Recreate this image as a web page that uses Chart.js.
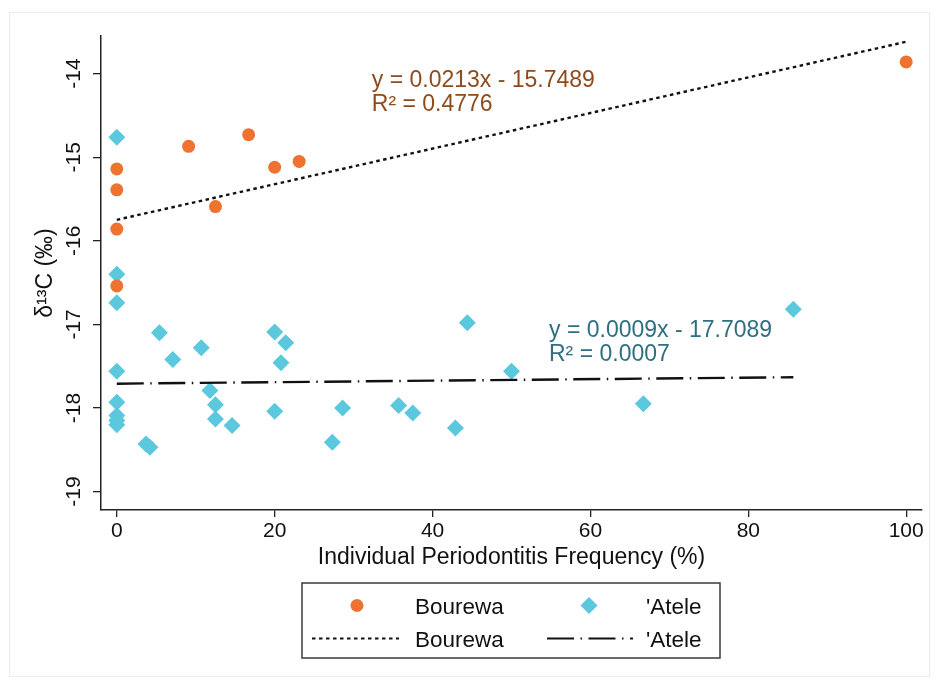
<!DOCTYPE html>
<html>
<head>
<meta charset="utf-8">
<script src="https://cdn.jsdelivr.net/npm/chart.js@4/dist/chart.umd.min.js"></script>
<style>
  html, body { margin: 0; padding: 0; background: #ffffff; }
  #wrap { width: 939px; height: 685px; position: relative; }
</style>
</head>
<body>
<div id="wrap"><canvas id="chart" width="939" height="685"></canvas></div>
<script>
// Bourewa individuals: periodontitis frequency (%) and bone collagen δ13C (‰)
const bourewaX = [0, 0, 0, 0, 9.1, 12.5, 16.7, 20, 23.1, 100];
const bourewaY = [-15.14, -15.39, -15.86, -16.54, -14.87, -15.59, -14.73, -15.12, -15.05, -13.86];

// 'Atele individuals
const ateleX = [0, 0, 0, 0, 0, 0, 0, 0, 3.7, 4.2, 5.4, 7.1, 10.7, 11.8, 12.5, 12.5, 14.6, 20, 20, 20.8,
                21.4, 27.3, 28.6, 35.7, 37.5, 42.9, 44.4, 50, 66.7, 85.7];
const ateleY = [-14.76, -16.40, -16.74, -17.56, -17.93, -18.09, -18.15, -18.20, -18.43, -18.47, -17.10, -17.42,
                -17.28, -17.79, -17.96, -18.13, -18.21, -17.09, -18.04, -17.46, -17.22, -18.41, -18.00, -17.97,
                -18.06, -18.24, -16.98, -17.56, -17.95, -16.82];

// Linear fits [Bourewa, 'Atele]
const seriesNames = ['Bourewa', "'Atele"];
const fitSlopes = [0.0213, 0.0009];
const fitIntercepts = [-15.7489, -17.7089];
const fitR2 = [0.4776, 0.0007];

// Axis ticks
const xTicks = [0, 20, 40, 60, 80, 100];
const yTicks = [-19, -18, -17, -16, -15, -14];

const ORANGE = '#ee7331';
const CYAN = '#5bc8de';
const FONT = '"Liberation Sans", Arial, Helvetica, sans-serif';

function toPoints(xs, ys) { return xs.map((x, i) => ({ x: x, y: ys[i] })); }
function fitLine(k, xs) {
  const x0 = Math.min(...xs), x1 = Math.max(...xs);
  return [x0, x1].map(x => ({ x: x, y: fitSlopes[k] * x + fitIntercepts[k] }));
}
function fitLabel(k) {
  const b = fitIntercepts[k];
  return ['y = ' + fitSlopes[k].toFixed(4) + 'x ' + (b < 0 ? '- ' : '+ ') + Math.abs(b).toFixed(4),
          'R\u00b2 = ' + fitR2[k].toFixed(4)];
}

const DOTTED = [3.5, 3.5];
const DASHDOT = [27, 6.5, 1.5, 6.5];

// Equation labels: anchor (data units) of the first text line's baseline
const labelStyle = [
  { x: 32.3, y: -14.16, color: '#8e4b1d' },
  { x: 54.75, y: -17.147, color: '#2f6f80' }
];

const framePlugin = {
  id: 'frame',
  beforeDraw(chart) {
    const ctx = chart.ctx;
    ctx.save();
    ctx.fillStyle = '#ffffff';
    ctx.fillRect(0, 0, chart.width, chart.height);
    ctx.strokeStyle = '#ececec';
    ctx.lineWidth = 1;
    ctx.strokeRect(9.5, 12.5, 920, 664);
    ctx.restore();
  }
};

const annotatePlugin = {
  id: 'annotate',
  afterDraw(chart) {
    const ctx = chart.ctx;
    const xs = chart.scales.x, ys = chart.scales.y;
    ctx.save();

    // rotated y tick labels
    ctx.fillStyle = '#111';
    ctx.font = '21px ' + FONT;
    ctx.textAlign = 'center';
    ctx.textBaseline = 'middle';
    yTicks.forEach(v => {
      const py = ys.getPixelForValue(v);
      ctx.save();
      ctx.translate(ys.right - 27, py);
      ctx.rotate(-Math.PI / 2);
      ctx.fillText(String(v), 0, 0);
      ctx.restore();
    });

    // regression equations
    ctx.textAlign = 'left';
    ctx.textBaseline = 'alphabetic';
    labelStyle.forEach((s, k) => {
      const lines = fitLabel(k);
      const px = xs.getPixelForValue(s.x), py = ys.getPixelForValue(s.y);
      ctx.fillStyle = s.color;
      ctx.font = '23px ' + FONT;
      lines.forEach((t, i) => ctx.fillText(t, px, py + i * 24.5));
    });

    // legend box
    const L = { x: 302, y: 583, w: 418, h: 75 };
    ctx.strokeStyle = '#3a3a3a';
    ctx.lineWidth = 1.5;
    ctx.strokeRect(L.x, L.y, L.w, L.h);
    const row1 = 605.5, row2 = 638.5;
    // markers
    ctx.fillStyle = ORANGE;
    ctx.beginPath(); ctx.arc(357, row1, 6.5, 0, Math.PI * 2); ctx.fill();
    ctx.fillStyle = CYAN;
    ctx.beginPath();
    ctx.moveTo(589, row1 - 8.5); ctx.lineTo(597.5, row1); ctx.lineTo(589, row1 + 8.5); ctx.lineTo(580.5, row1);
    ctx.closePath(); ctx.fill();
    // line samples
    ctx.strokeStyle = '#111';
    ctx.lineWidth = 2;
    ctx.setLineDash(DOTTED);
    ctx.beginPath(); ctx.moveTo(312, row2); ctx.lineTo(399, row2); ctx.stroke();
    ctx.setLineDash(DASHDOT);
    ctx.beginPath(); ctx.moveTo(547, row2); ctx.lineTo(633, row2); ctx.stroke();
    ctx.setLineDash([]);
    // labels
    ctx.fillStyle = '#111';
    ctx.font = '22.5px ' + FONT;
    ctx.fillText(seriesNames[0], 415, row1 + 8.5);
    ctx.fillText(seriesNames[1], 646, row1 + 8.5);
    ctx.fillText(seriesNames[0], 415, row2 + 8.5);
    ctx.fillText(seriesNames[1], 646, row2 + 8.5);

    ctx.restore();
  }
};

new Chart(document.getElementById('chart'), {
  type: 'scatter',
  data: {
    datasets: [
      {
        type: 'line', label: seriesNames[0] + ' fit', data: fitLine(0, bourewaX), order: 0,
        borderColor: '#111', borderWidth: 2.4, borderDash: DOTTED, pointRadius: 0, fill: false
      },
      {
        type: 'line', label: seriesNames[1] + ' fit', data: fitLine(1, ateleX), order: 0,
        borderColor: '#111', borderWidth: 2.4, borderDash: DASHDOT, pointRadius: 0, fill: false
      },
      {
        label: seriesNames[0], data: toPoints(bourewaX, bourewaY), order: 1,
        pointStyle: 'circle', pointRadius: 6.5, backgroundColor: ORANGE, borderWidth: 0
      },
      {
        label: seriesNames[1], data: toPoints(ateleX, ateleY), order: 2,
        pointStyle: 'rectRot', pointRadius: 8.5, backgroundColor: CYAN, borderWidth: 0
      }
    ]
  },
  options: {
    responsive: false,
    animation: false,
    devicePixelRatio: 1,
    events: [],
    layout: { padding: { left: 0, top: 36, right: 17, bottom: 111 } },
    plugins: { legend: { display: false }, tooltip: { enabled: false } },
    scales: {
      x: {
        type: 'linear', min: -2, max: 102,
        afterBuildTicks: s => { s.ticks = xTicks.map(v => ({ value: v })); },
        afterFit: s => { s.height = 64; },
        grid: { display: true, drawOnChartArea: false, drawTicks: true, tickLength: 7, color: '#222', lineWidth: 1.3 },
        border: { display: true, color: '#222', width: 1.5 },
        ticks: { color: '#111', font: { family: FONT, size: 21 }, padding: 2, maxRotation: 0 },
        title: { display: true, text: 'Individual Periodontitis Frequency (%)', color: '#111',
                 font: { family: FONT, size: 23 }, padding: { top: 0, bottom: 3 } }
      },
      y: {
        type: 'linear', min: -19.22, max: -13.55,
        afterBuildTicks: s => { s.ticks = yTicks.map(v => ({ value: v })); },
        afterFit: s => { s.width = 101; },
        grid: { display: true, drawOnChartArea: false, drawTicks: true, tickLength: 8, color: '#222', lineWidth: 1.3 },
        border: { display: true, color: '#222', width: 1.5 },
        ticks: { display: false },
        title: { display: true, text: '\u03b4\u00b9\u00b3C (\u2030)', color: '#111',
                 font: { family: FONT, size: 23 }, padding: { top: 32, bottom: 0 } }
      }
    }
  },
  plugins: [framePlugin, annotatePlugin]
});
</script>
</body>
</html>
